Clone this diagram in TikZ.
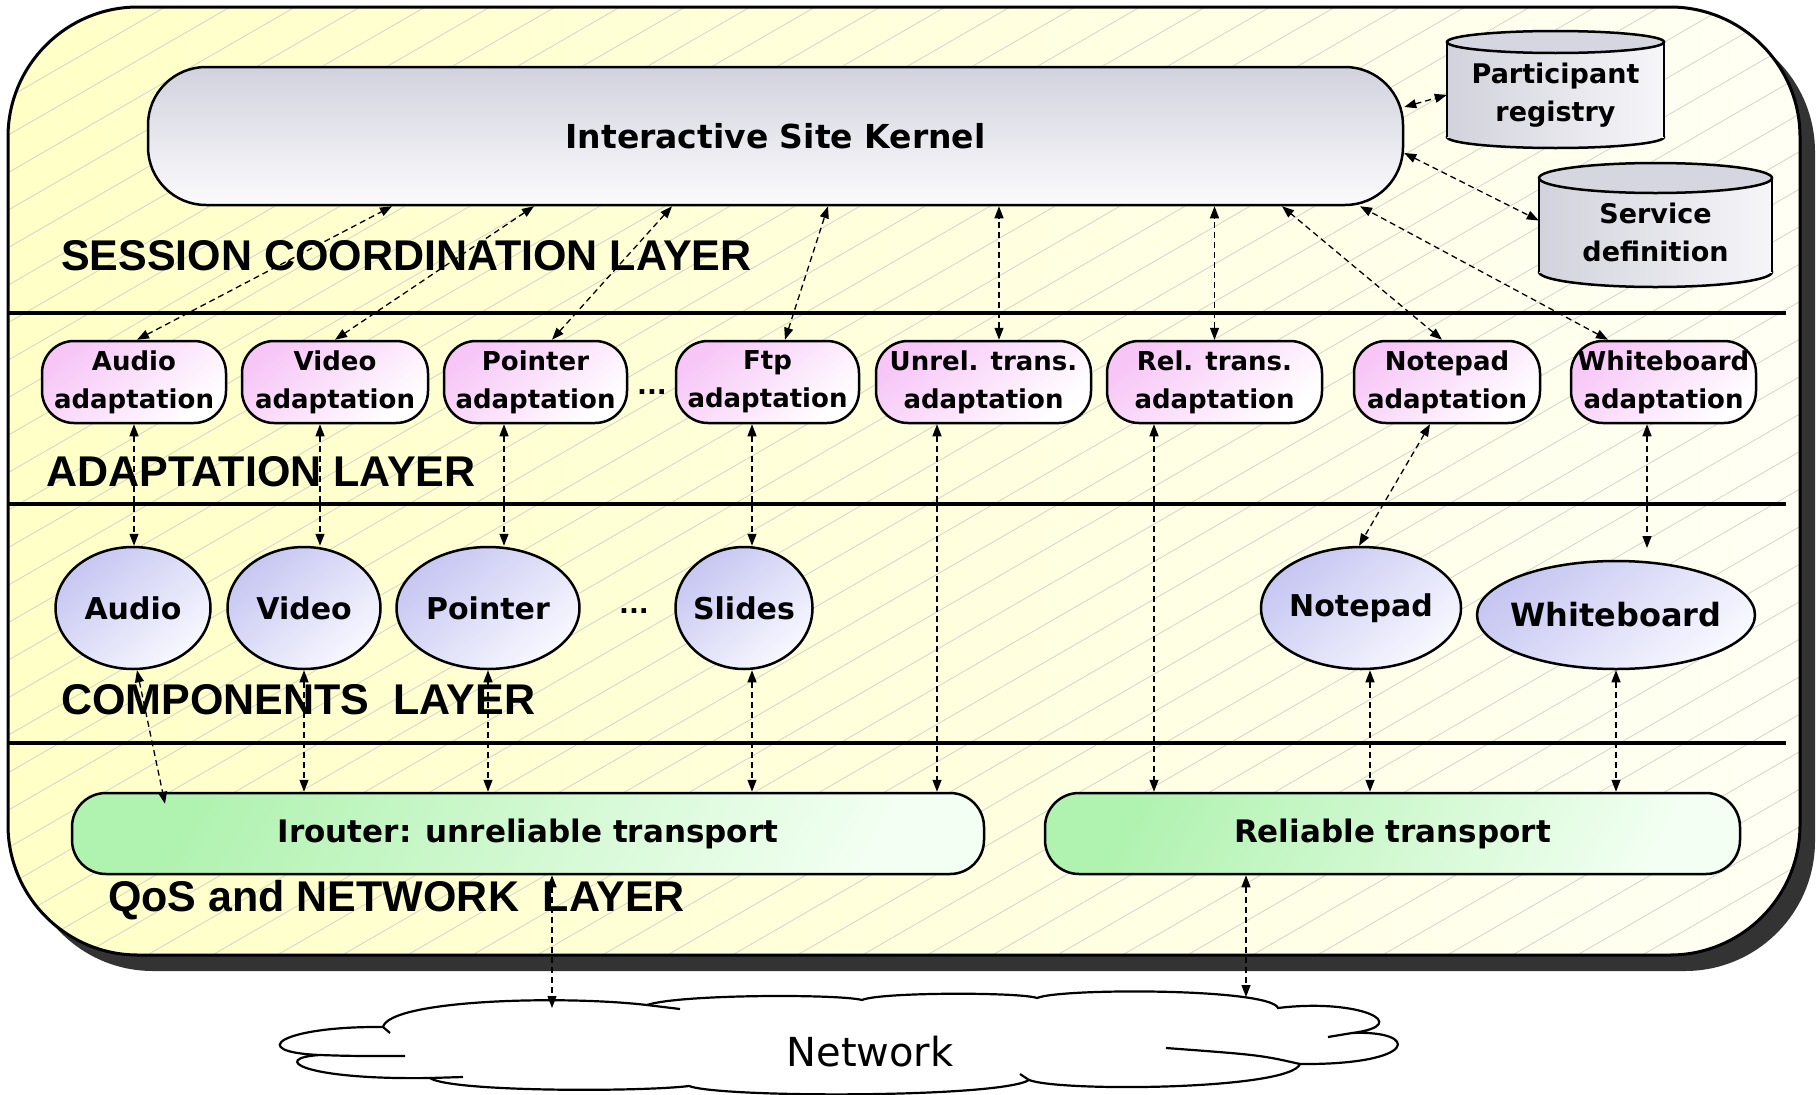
\documentclass[tikz,border=0pt]{standalone}
\usepackage{fontspec}
\setmainfont{DejaVu Sans}
\newfontfamily\layerfont{Liberation Sans}
\usetikzlibrary{arrows.meta,shapes.geometric,calc}
\definecolor{bgL}{HTML}{FFFFC6}
\definecolor{bgR}{HTML}{FFFFF4}
\definecolor{hatchc}{HTML}{D4D4CC}
\definecolor{kernT}{HTML}{D2D2DE}
\definecolor{kernB}{HTML}{FBFBFD}
\definecolor{pinkA}{HTML}{F7C6F7}
\definecolor{lavA}{HTML}{C6C6F2}
\definecolor{lavB}{HTML}{F8F8FF}
\definecolor{greenA}{HTML}{B0F2B0}
\definecolor{greenB}{HTML}{F2FFF2}
\definecolor{cylA}{HTML}{D2D2DC}
\definecolor{cylB}{HTML}{F6F6F9}
\definecolor{cylT}{HTML}{D6D6E0}
\definecolor{shadowc}{HTML}{333333}
\newcommand\mycyl[5]{%
  \pgfmathsetmacro\cylcx{(#1+#2)/2}%
  \pgfmathsetmacro\cylrx{(#2-#1)/2}%
  \draw[line width=2.5pt,left color=cylA,right color=cylB] (\cylcx,#4-#5) ellipse[x radius=\cylrx,y radius=#5];
  \path[left color=cylA,right color=cylB] (#1,#3+#5) rectangle (#2,#4-#5);
  \draw[line width=2.5pt] (#1,#3+#5) -- (#1,#4-#5) (#2,#3+#5) -- (#2,#4-#5);
  \draw[line width=2.5pt,fill=cylT] (\cylcx,#3+#5) ellipse[x radius=\cylrx,y radius=#5];
}
\begin{document}
\begin{tikzpicture}[x=1pt,y=-1pt,
  box/.style={draw,line width=2.5pt,inner sep=0pt,align=center},
  kern/.style={box,rounded corners=58pt,minimum width=1255pt,minimum height=138pt,top color=kernT,bottom color=kernB,font=\fontsize{33}{40}\selectfont\bfseries},
  adapt/.style={box,rounded corners=32pt,minimum height=82pt,top color=pinkA,bottom color=white,shading angle=40,font=\fontsize{26}{38}\selectfont\bfseries},
  comp/.style={box,ellipse,inner xsep=-22pt,minimum height=122pt,top color=lavA,bottom color=lavB,shading angle=40,font=\fontsize{30}{36}\selectfont\bfseries},
  trans/.style={box,rounded corners=34pt,minimum height=81pt,top color=greenA,bottom color=greenB,shading angle=60,font=\fontsize{31}{36}\selectfont\bfseries},
  dbtext/.style={inner sep=0pt,align=center,font=\fontsize{27}{38}\selectfont\bfseries},
  layerlbl/.style={anchor=west,inner sep=0pt,font=\layerfont\fontsize{43}{48}\selectfont\bfseries},
  dots/.style={inner sep=0pt,font=\fontsize{26}{30}\selectfont\bfseries},
  conn/.style={line width=1.3pt,dash pattern=on 6pt off 4pt,<->,>={Triangle[length=12pt,width=9pt]}},
  sep/.style={line width=4pt},
  cloudline/.style={line width=2.2pt},
]
\useasboundingbox (0,0) rectangle (1818,1095);
% frame with shadow
\fill[shadowc,rounded corners=130pt] (23,22) rectangle (1815,971);
\path[left color=bgL,right color=bgR,rounded corners=130pt] (8,7) rectangle (1800,955);
\begin{scope}
  \clip[rounded corners=130pt] (8,7) rectangle (1800,955);
  \foreach \k in {-27,...,28} \draw[hatchc,line width=0.8pt] (\k*65,965) -- ++(1700,-981);
\end{scope}
\draw[line width=3pt,rounded corners=130pt] (8,7) rectangle (1800,955);
% layer separators
\draw[sep] (8,313) -- (1786,313);
\draw[sep] (8,504) -- (1786,504);
\draw[sep] (8,743) -- (1786,743);
% layer labels
\node[layerlbl] (lsc) at (61,256) {SESSION COORDINATION LAYER};
\node[layerlbl] (lad) at (46,472) {ADAPTATION LAYER};
\node[layerlbl] (lco) at (61,700) {COMPONENTS\ \ LAYER};
\node[layerlbl] (lqo) at (108,900) {QoS and NETWORK\ \ LAYER};
% kernel and databases
\node[kern] (kernel) at (775.5,136) {Interactive Site Kernel};
\mycyl{1447}{1664}{31}{148}{11}
\node[dbtext,minimum width=217pt,minimum height=106pt] (part) at (1555.5,95) {Participant\\registry};
\mycyl{1539}{1772}{163}{287}{15}
\node[dbtext,minimum width=233pt,minimum height=109pt] (serv) at (1655.5,232.5) {Service\\definition};
% adaptation layer
\node[adapt,minimum width=184pt] (aa) at (134,382) {Audio\\adaptation};
\node[adapt,minimum width=186pt] (va) at (335,382) {Video\\adaptation};
\node[adapt,minimum width=183pt] (pa) at (535.5,382) {Pointer\\adaptation};
\node[dots] (d1) at (652,392) {...};
\node[adapt,minimum width=183pt] (fa) at (767.5,382) {Ftp\\adaptation};
\node[adapt,minimum width=215pt] (ua) at (983.5,382) {Unrel. trans.\\adaptation};
\node[adapt,minimum width=215pt] (ra) at (1214.5,382) {Rel. trans.\\adaptation};
\node[adapt,minimum width=186pt] (na) at (1447,382) {Notepad\\adaptation};
\node[adapt,minimum width=185pt] (wa) at (1663.5,382) {Whiteboard\\adaptation};
% components layer
\node[comp,minimum width=155pt] (ca) at (133,608) {Audio};
\node[comp,minimum width=153pt] (cv) at (304,608) {Video};
\node[comp,minimum width=183pt] (cp) at (488,608) {Pointer};
\node[dots] (d2) at (634,611) {...};
\node[comp,minimum width=137pt] (cs) at (744,608) {Slides};
\node[comp,minimum width=200pt] (cn) at (1361,608) {Notepad};
\node[comp,inner xsep=-40pt,minimum width=278pt,minimum height=108pt,font=\fontsize{32}{36}\selectfont\bfseries] (cw) at (1616,615) {Whiteboard};
% transport
\node[trans,minimum width=912pt] (ir) at (528,833.5) {Irouter: unreliable transport};
\node[trans,minimum width=695pt] (rel) at (1392.5,833.5) {Reliable transport};
% network cloud
\draw[cloudline,fill=white] (320,1055)
  .. controls (245,1052) and (280,1026) .. (383,1027)
  .. controls (390,1000) and (560,995) .. (647,1005)
  .. controls (680,994) and (840,994) .. (862,1000)
  .. controls (880,992) and (1020,992) .. (1037,998)
  .. controls (1060,988) and (1270,988) .. (1278,1008)
  .. controls (1360,998) and (1415,1025) .. (1352,1033)
  .. controls (1420,1030) and (1420,1065) .. (1300,1064)
  .. controls (1290,1090) and (1060,1092) .. (1029,1080)
  .. controls (1000,1098) and (720,1098) .. (689,1086)
  .. controls (640,1092) and (450,1092) .. (430,1078)
  .. controls (300,1080) and (270,1058) .. cycle;
\draw[cloudline] (320,1055) .. controls (350,1056) .. (405,1056);
\draw[cloudline] (430,1078) -- (463,1077);
\draw[cloudline] (383,1027) -- (390,1033);
\draw[cloudline] (647,1005) -- (680,1009);
\draw[cloudline] (1352,1033) -- (1328,1037);
\draw[cloudline] (1300,1064) .. controls (1260,1055) .. (1166,1048);
\draw[cloudline] (1029,1080) -- (1020,1074);
\node[inner sep=0pt,font=\fontsize{40}{44}\selectfont] (net) at (870,1052) {Network};
\coordinate (n1) at (552,1008);
\coordinate (n2) at (1246,997);
\coordinate (wtip) at (1647,548);
% connectors: adaptation <-> kernel
\draw[conn] (137,0 |- aa.north) -- (392,0 |- kernel.south);
\draw[conn] (va.north) -- (534,0 |- kernel.south);
\draw[conn] (552,0 |- pa.north) -- (672,0 |- kernel.south);
\draw[conn] (785,0 |- fa.north) -- (828,0 |- kernel.south);
\draw[conn] (999,0 |- ua.north) -- (999,0 |- kernel.south);
\draw[conn] (ra.north) -- (ra.north |- kernel.south);
\draw[conn] (1442,0 |- na.north) -- (1282,0 |- kernel.south);
\draw[conn] (1608,0 |- wa.north) -- (1360,0 |- kernel.south);
\draw[conn] ([yshift=29pt]kernel.east) -- (part.west);
\draw[conn] ([yshift=-17pt]kernel.east) -- ([yshift=12pt]serv.west);
% adaptation <-> components
\draw[conn] (aa.south) -- (aa.south |- ca.north);
\draw[conn] (320,0 |- va.south) -- (320,0 |- cv.north);
\draw[conn] (504,0 |- pa.south) -- (504,0 |- cp.north);
\draw[conn] (752,0 |- fa.south) -- (752,0 |- cs.north);
\draw[conn] (1430,0 |- na.south) -- (1359,0 |- cn.north);
\draw[conn] (1647,0 |- wa.south) -- (wtip);
% adaptation <-> transport
\draw[conn] (937,0 |- ua.south) -- (937,0 |- ir.north);
\draw[conn] (1154,0 |- ra.south) -- (1154,0 |- rel.north);
% components <-> transport
\draw[conn] (137,0 |- ca.south) -- ($(165,0 |- ir.north)+(0,12)$);
\draw[conn] (cv.south) -- (cv.south |- ir.north);
\draw[conn] (cp.south) -- (cp.south |- ir.north);
\draw[conn] (752,0 |- cs.south) -- (752,0 |- ir.north);
\draw[conn] (1370,0 |- cn.south) -- (1370,0 |- rel.north);
\draw[conn] (cw.south) -- (cw.south |- rel.north);
% transport <-> network
\draw[conn] (552,0 |- ir.south) -- (n1);
\draw[conn] (1246,0 |- rel.south) -- (n2);
\end{tikzpicture}
\end{document}
